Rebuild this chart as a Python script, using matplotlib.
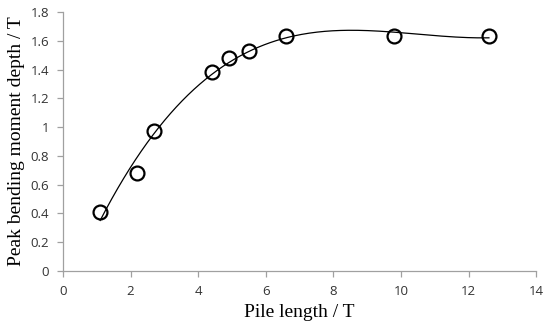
import numpy as np
import matplotlib.pyplot as plt

# pile length vs depth of the peak bending moment
pile_length = [1.1, 2.2, 2.7, 4.4, 4.9, 5.5, 6.6, 9.8, 12.6]
peak_depth = [0.41, 0.68, 0.97, 1.38, 1.48, 1.53, 1.63, 1.63, 1.63]

x_ticks = [0, 2, 4, 6, 8, 10, 12, 14]
y_ticks = [0, 0.2, 0.4, 0.6, 0.8, 1, 1.2, 1.4, 1.6, 1.8]
y_tick_labels = ['0', '0.2', '0.4', '0.6', '0.8', '1', '1.2', '1.4', '1.6', '1.8']

fig = plt.figure(figsize=(5.5, 3.31), dpi=100)
ax = fig.add_axes([0.1145, 0.181, 0.8605, 0.783])

# polynomial trend line
coef = np.polyfit(pile_length, peak_depth, 3)
xs = np.linspace(min(pile_length), max(pile_length), 200)
ax.plot(xs, np.polyval(coef, xs), color='black', lw=0.9, zorder=2)

ax.plot(pile_length, peak_depth, 'o', ms=10, mfc='none', mec='black', mew=1.6, zorder=3)

ax.set_xlim(0, 14)
ax.set_ylim(0, 1.8)
ax.set_xticks(x_ticks)
ax.set_yticks(y_ticks)
ax.set_yticklabels(y_tick_labels)

for side in ['top', 'right']:
    ax.spines[side].set_visible(False)
for side in ['left', 'bottom']:
    ax.spines[side].set_color('#a0a0a0')
    ax.spines[side].set_linewidth(0.9)
ax.tick_params(colors='#a0a0a0', labelcolor='#333333', labelsize=9.5, length=4, width=0.9, pad=6)
for lab in ax.get_xticklabels() + ax.get_yticklabels():
    lab.set_family('Open Sans')

ax.set_xlabel('Pile length / T', family='Liberation Serif', fontsize=14, labelpad=4)
ax.set_ylabel('Peak bending moment depth / T', family='Liberation Serif', fontsize=14, labelpad=4)

fig.savefig('out.png', dpi=100)
